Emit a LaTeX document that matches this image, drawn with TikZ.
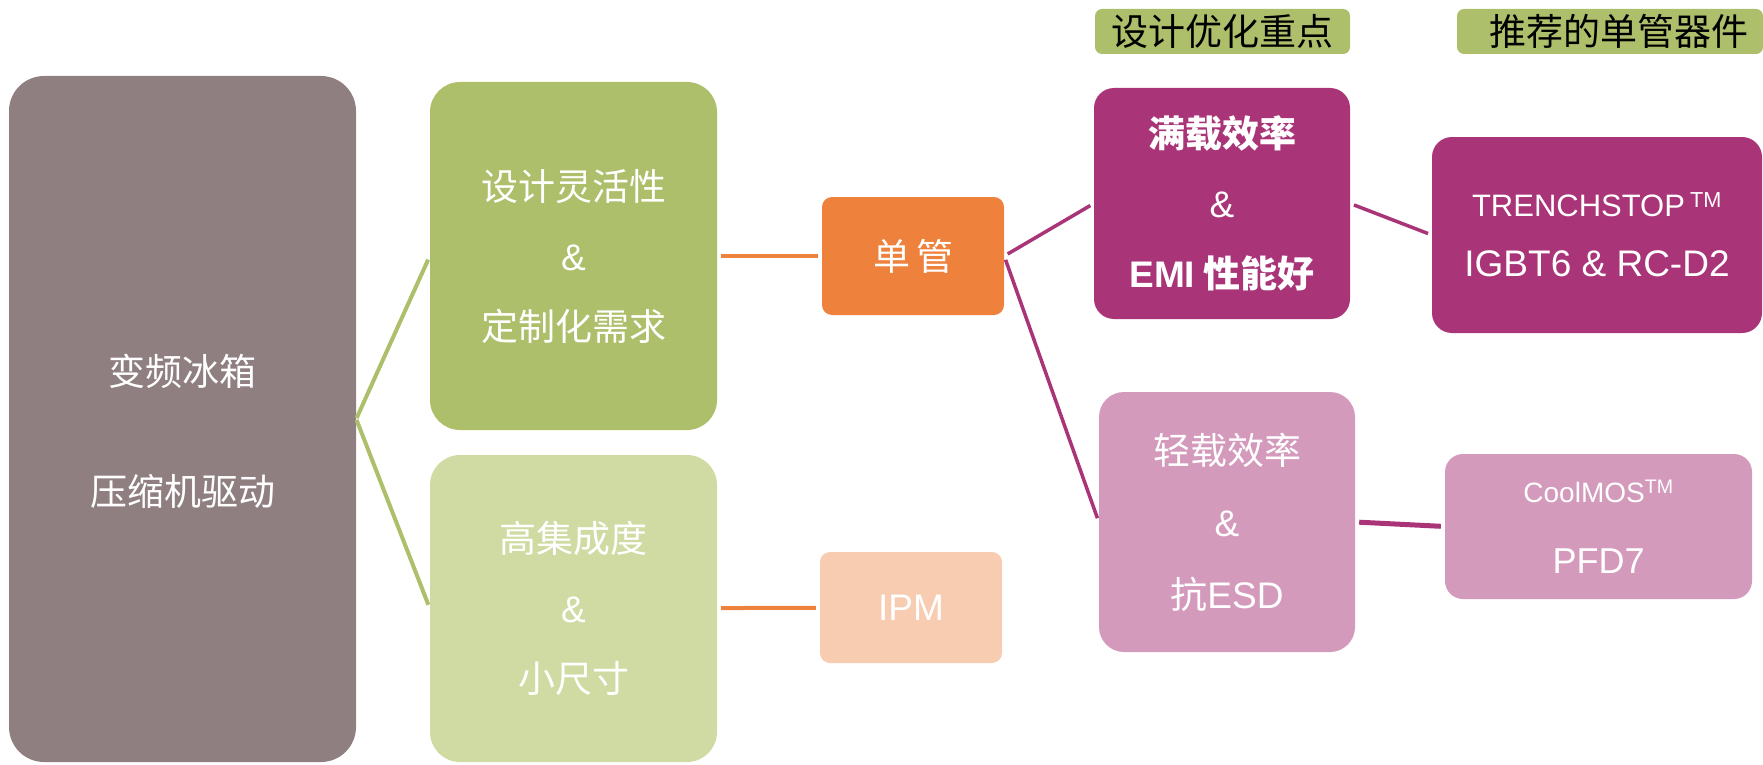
\documentclass[tikz,border=0pt]{standalone}
\usepackage{fontspec}
\setmainfont{Liberation Sans}
\newfontfamily\cjk{Noto Sans CJK SC}
\usetikzlibrary{positioning}
\definecolor{mauve}{HTML}{8F7F81}
\definecolor{leafgreen}{HTML}{ADBF6A}
\definecolor{palegreen}{HTML}{D0DBA4}
\definecolor{carrot}{HTML}{EE823C}
\definecolor{peach}{HTML}{F8CCB0}
\definecolor{berry}{HTML}{A93478}
\definecolor{orchid}{HTML}{D49ABC}

\begin{document}
\begin{tikzpicture}[x=1pt,y=-1pt,line cap=butt,
    box/.style={draw=none,rounded corners=#1,align=center,text=white,inner sep=0pt,font=\cjk\fontsize{37}{70}\selectfont},
    box/.default=28pt,
    tag/.style={fill=leafgreen,rounded corners=7pt,inner sep=0pt,minimum height=45pt,font=\cjk\fontsize{37}{40}\selectfont},
    link/.style={line width=#1,shorten <=4pt,shorten >=4pt},
    link/.default=4pt]

    \useasboundingbox (0,0) rectangle (1763,765);

    \node[box=35pt,fill=mauve,minimum width=347pt,minimum height=686pt] (fridge) at (182.5,419) {};
    \node[text=white,align=center,font=\cjk\fontsize{37}{120}\selectfont] (fridgetext) at (182.5,431) {变频冰箱\\压缩机驱动};
    \node[box=30pt,fill=leafgreen,minimum width=287pt,minimum height=348pt] (flex) at (573.5,256) {设计灵活性\\{\rmfamily\&}\\定制化需求};
    \node[box=30pt,fill=palegreen,minimum width=287pt,minimum height=307pt] (integ) at (573.5,608.5) {高集成度\\{\rmfamily\&}\\小尺寸};

    \node[box=10pt,fill=carrot,minimum width=182pt,minimum height=118pt] (disc) at (913,256) {单\hspace{6pt}管};
    \node[box=10pt,fill=peach,minimum width=182pt,minimum height=111pt,font=\fontsize{37}{40}\selectfont] (ipm) at (911,607.5) {IPM};

    \node[box=20pt,fill=berry,minimum width=256pt,minimum height=231pt,font=\cjk\bfseries\fontsize{37}{70}\selectfont] (fullload) at (1222,203.5) {满载效率\\{\rmfamily\mdseries\&}\\{\rmfamily EMI} 性能好};
    \node[box=25pt,fill=orchid,minimum width=256pt,minimum height=260pt,font=\cjk\fontsize{37}{72}\selectfont] (lightload) at (1227,522) {轻载效率\\{\rmfamily\&}\\抗{\rmfamily ESD}};

    \node[box=20pt,fill=berry,minimum width=330pt,minimum height=196pt,font=\fontsize{37}{60}\selectfont] (trench) at (1597,235) {{\fontsize{31}{31}\selectfont TRENCHSTOP\,\textsuperscript{TM}}\\IGBT6 \& RC-D2};
    \node[box=18pt,fill=orchid,minimum width=307pt,minimum height=145pt,font=\fontsize{36}{71}\selectfont] (cool) at (1598.5,526.5) {{\fontsize{28}{28}\selectfont CoolMOS\textsuperscript{TM}}\\PFD7};

    \node[tag,minimum width=255pt] (focus) at (1222.5,31.5) {设计优化重点};
    \node[tag,minimum width=306pt] (pick) at (1610,31.5) {\hspace{18pt}推荐的单管器件};

    \path[link]
        (fridge.east) edge[draw=leafgreen,shorten <=1pt] (flex.west)
        (fridge.east) edge[draw=leafgreen,shorten <=1pt] (integ.west)
        (flex) edge[draw=carrot] (disc)
        (integ) edge[draw=carrot] (ipm)
    ;

    \path[link=3.5pt,draw=berry]
        (disc.east) edge[draw=berry] (fullload.west)
        (disc.east) edge[draw=berry] (lightload.west)
        (fullload.east) edge[draw=berry] (trench.west)
        (lightload.east) edge[draw=berry,line width=5pt] (cool.west)
    ;
\end{tikzpicture}
\end{document}
